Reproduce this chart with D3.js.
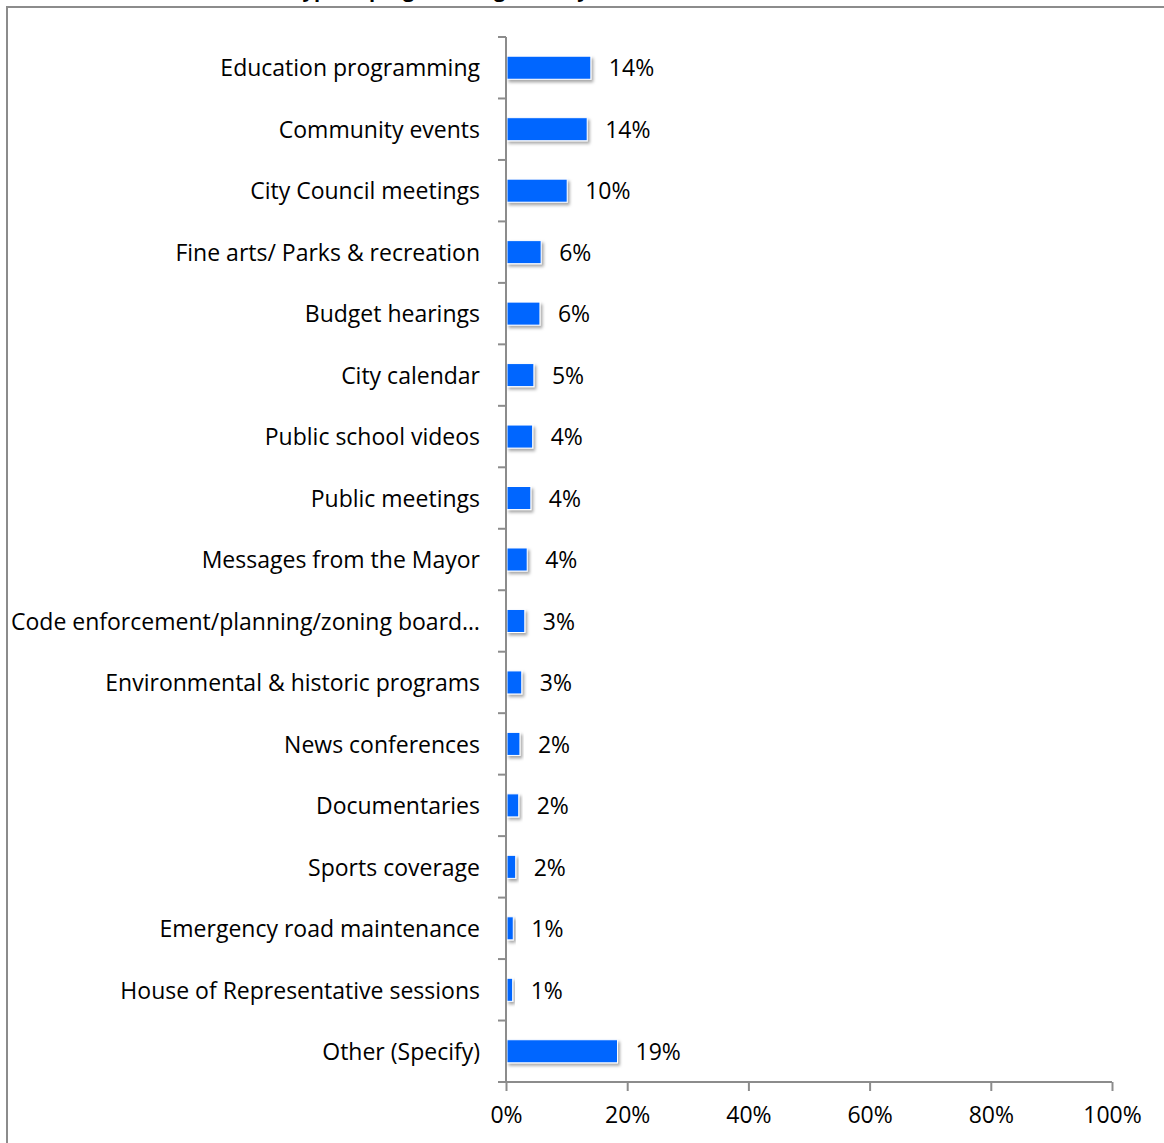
<!DOCTYPE html>
<html>
<head>
<meta charset="utf-8">
<script src="https://cdn.jsdelivr.net/npm/d3@7"></script>
<style>
  html, body { margin: 0; padding: 0; background: #fff; }
  svg { display: block; }
</style>
</head>
<body>
<svg id="chart" width="1164" height="1143"></svg>
<script>
const titleText = "What type of programming would you most like to see on the channel?";
const categories = [
  "Education programming",
  "Community events",
  "City Council meetings",
  "Fine arts/ Parks & recreation",
  "Budget hearings",
  "City calendar",
  "Public school videos",
  "Public meetings",
  "Messages from the Mayor",
  "Code enforcement/planning/zoning board\u2026",
  "Environmental & historic programs",
  "News conferences",
  "Documentaries",
  "Sports coverage",
  "Emergency road maintenance",
  "House of Representative sessions",
  "Other (Specify)"
];
const values = [14.0, 13.4, 10.1, 5.8, 5.6, 4.6, 4.4, 4.1, 3.5, 3.1, 2.6, 2.3, 2.1, 1.6, 1.2, 1.1, 18.4];
const valueLabels = ["14%", "14%", "10%", "6%", "6%", "5%", "4%", "4%", "4%", "3%", "3%", "2%", "2%", "2%", "1%", "1%", "19%"];
const xTicks = [0, 20, 40, 60, 80, 100];

const svg = d3.select("#chart");
const font = "'Open Sans', sans-serif";
const fs = 23;
const axisColor = "#8c8c8c";

const defs = svg.append("defs");
const f = defs.append("filter").attr("id", "shadow")
  .attr("x", "-20%").attr("y", "-30%").attr("width", "150%").attr("height", "180%");
f.append("feDropShadow").attr("dx", 2).attr("dy", 2.5).attr("stdDeviation", 1.6)
  .attr("flood-color", "#000").attr("flood-opacity", 0.35);

// frame
svg.append("rect").attr("x", 7).attr("y", 7).attr("width", 1170).attr("height", 1150)
  .attr("fill", "none").attr("stroke", axisColor).attr("stroke-width", 2);

// title (cut off at top, as in the reference)
svg.append("text").attr("x", 588).attr("y", -3)
  .attr("text-anchor", "middle").attr("font-family", font)
  .attr("font-weight", "bold").attr("font-size", 20).attr("fill", "#000")
  .text(titleText);

const x0 = 506, x1 = 1112, yTop = 37, yBot = 1082;
const x = d3.scaleLinear().domain([0, 100]).range([x0, x1]);
const y = d3.scaleBand().domain(categories).range([yTop, yBot]).paddingInner(0.625).paddingOuter(0.3125);

svg.append("g").selectAll("rect").data(values).join("rect")
  .attr("x", x(0) + 1)
  .attr("y", (d, i) => y(categories[i]))
  .attr("width", d => x(d) - x(0) - 1)
  .attr("height", y.bandwidth())
  .attr("fill", "#0066ff")
  .attr("stroke", "#ffffff").attr("stroke-width", 1)
  .attr("filter", "url(#shadow)");

svg.append("g").selectAll("text").data(values).join("text")
  .attr("x", d => x(d) + 18)
  .attr("y", (d, i) => y(categories[i]) + y.bandwidth() / 2)
  .attr("dy", "0.38em")
  .attr("font-family", font).attr("font-size", fs).attr("fill", "#000")
  .text((d, i) => valueLabels[i]);

svg.append("g").selectAll("text").data(categories).join("text")
  .attr("x", 480)
  .attr("y", d => y(d) + y.bandwidth() / 2)
  .attr("dy", "0.38em")
  .attr("text-anchor", "end")
  .attr("font-family", font).attr("font-size", fs).attr("fill", "#000")
  .text(d => d);

const boundaries = d3.range(categories.length + 1).map(i => yTop + i * (yBot - yTop) / categories.length);
svg.append("g").selectAll("line").data(boundaries).join("line")
  .attr("x1", x0 - 8).attr("x2", x0)
  .attr("y1", d => d).attr("y2", d => d)
  .attr("stroke", axisColor).attr("stroke-width", 2);
svg.append("line").attr("x1", x0).attr("x2", x0).attr("y1", yTop).attr("y2", yBot)
  .attr("stroke", axisColor).attr("stroke-width", 2);

const xAxis = d3.axisBottom(x).tickValues(xTicks).tickFormat(d => d + "%").tickSize(9).tickPadding(16);
const gx = svg.append("g").attr("transform", `translate(0,${yBot})`).call(xAxis);
gx.select(".domain").attr("stroke", axisColor).attr("stroke-width", 2).attr("d", `M${x0},0H${x1}`);
gx.selectAll(".tick line").attr("stroke", axisColor).attr("stroke-width", 2);
gx.selectAll(".tick text").attr("font-family", font).attr("font-size", fs).attr("fill", "#000");
</script>
</body>
</html>
